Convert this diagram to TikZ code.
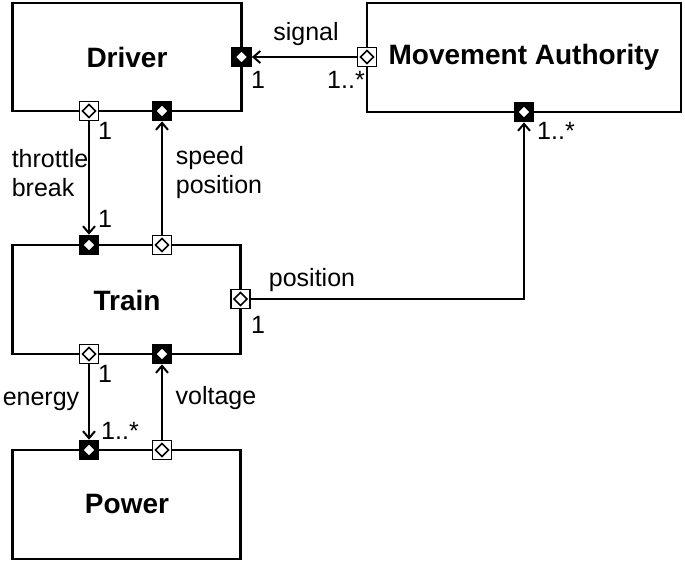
\documentclass[tikz,border=0pt]{standalone}
\usepackage{fontspec}
\setmainfont{Liberation Sans}
\usetikzlibrary{arrows.meta}
\begin{document}
\begin{tikzpicture}[x=1pt,y=-1pt,
  boxtitle/.style={font=\bfseries\fontsize{28}{33}\selectfont},
  block/.style={draw, line width=2.2pt},
  portbase/.style={rectangle, draw, line width=1.6pt, minimum size=19pt, inner sep=0pt,
    path picture={\draw[fill=white,line width=1.6pt,shift={(path picture bounding box.center)}]
      (-6.5pt,0) -- (0,6.5pt) -- (6.5pt,0) -- (0,-6.5pt) -- cycle;}},
  inport/.style={portbase, fill=black},
  outport/.style={portbase, fill=white},
  conn/.style={line width=2pt, -{Straight Barb[length=7pt,width=12pt,line width=2pt]}},
  lbl/.style={font=\fontsize{25}{29}\selectfont, inner sep=0pt, align=left}
]
\useasboundingbox (0,0) rectangle (685,563);
% boxes
\draw[block] (12.5,3) rectangle (241.5,111);
\node[boxtitle] (drv) at (127,57) {Driver};
\draw[block] (367,3) rectangle (681,112);
\node[boxtitle] (ma) at (524,57) {Movement Authority};
\draw[block] (12.5,245) rectangle (240.5,354);
\node[boxtitle] (trn) at (127,300) {Train};
\draw[block] (12.5,450) rectangle (240.5,559);
\node[boxtitle] (pwr) at (127,504) {Power};
% ports
\node[inport]  (drR)  at (241.5,57) {};
\node[outport] (maL)  at (367,57) {};
\node[outport] (drB1) at (89,111) {};
\node[inport]  (drB2) at (162,111) {};
\node[inport]  (maB)  at (524,112) {};
\node[inport]  (trT1) at (89,245) {};
\node[outport] (trT2) at (162,245) {};
\node[outport] (trR)  at (240.5,299) {};
\node[outport] (trB1) at (89,354) {};
\node[inport]  (trB2) at (162,354) {};
\node[inport]  (pwT1) at (89,450) {};
\node[outport] (pwT2) at (162,450) {};
% connectors
\draw[conn] (maL) -- (drR);
\draw[conn] (drB1) -- (trT1);
\draw[conn] (trT2) -- (drB2);
\draw[conn] (trR) -| (maB);
\draw[conn] (trB1) -- (pwT1);
\draw[conn] (pwT2) -- (trB2);
% labels
\node[lbl] (l1) at (306,34) {signal};
\node[lbl] (l2) at (258,80) {1};
\node[lbl] (l3) at (346,80) {1..*};
\node[lbl] (l4) at (556,131) {1..*};
\node[lbl] (l5) at (105,131) {1};
\node[lbl] (l6) at (105,219) {1};
\node[lbl] (l7) at (50,173) {throttle\\break};
\node[lbl] (l8) at (219,173) {speed\\position};
\node[lbl] (l9) at (312,280) {position};
\node[lbl] (l10) at (258,325) {1};
\node[lbl] (l11) at (105,374) {1};
\node[lbl] (l12) at (41,401) {energy};
\node[lbl] (l13) at (120,431) {1..*};
\node[lbl] (l14) at (216,398) {voltage};
\end{tikzpicture}
\end{document}
